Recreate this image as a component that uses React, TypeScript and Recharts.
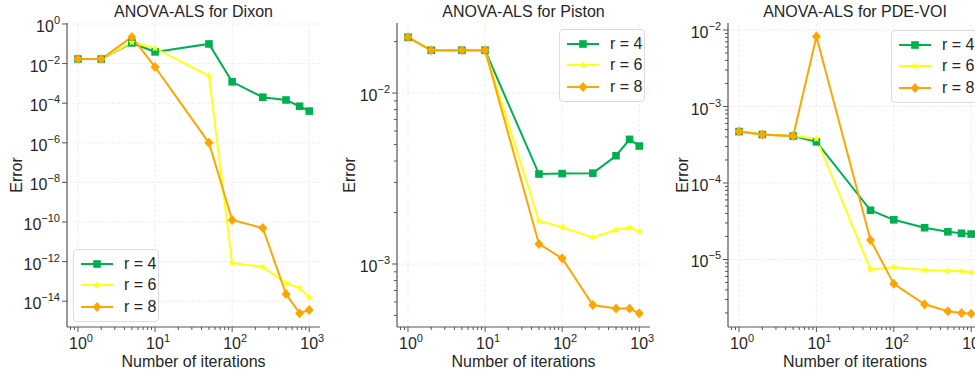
import React from "react";
import { LineChart, Line, XAxis, YAxis, ReferenceLine, Legend } from "recharts";

// iterations on the x axis (shared by all panels)
const iterations = [1, 2, 5, 10, 50, 100, 250, 500, 750, 1000];

// Dixon
const dixonR4 = [0.017, 0.017, 0.11, 0.039, 0.098, 1.2e-3, 2.0e-4, 1.45e-4, 7e-5, 4e-5];
const dixonR6 = [0.017, 0.017, 0.12, 0.06, 2.4e-3, 8.5e-13, 5.4e-13, 8e-14, 4.7e-14, 1.6e-14];
const dixonR8 = [0.017, 0.017, 0.22, 6.7e-3, 1e-6, 1.26e-10, 5e-11, 2.3e-14, 2.5e-15, 3.6e-15];

// Piston
const pistonR4 = [0.0212, 0.0178, 0.0178, 0.0178, 0.00336, 0.00338, 0.0034, 0.0043, 0.00536, 0.0049];
const pistonR6 = [0.0212, 0.0178, 0.0178, 0.0178, 0.00179, 0.00164, 0.00143, 0.00158, 0.00163, 0.00155];
const pistonR8 = [0.0212, 0.0178, 0.0178, 0.0178, 0.00131, 0.00108, 0.000575, 0.00055, 0.00055, 0.000515];

// PDE-VOI
const pdeR4 = [4.7e-4, 4.3e-4, 4.1e-4, 3.45e-4, 4.4e-5, 3.3e-5, 2.6e-5, 2.3e-5, 2.2e-5, 2.15e-5];
const pdeR6 = [4.7e-4, 4.3e-4, 4.1e-4, 3.8e-4, 7.4e-6, 7.9e-6, 7.3e-6, 7.1e-6, 7.0e-6, 6.8e-6];
const pdeR8 = [4.7e-4, 4.3e-4, 4.1e-4, 8.2e-3, 1.8e-5, 4.8e-6, 2.6e-6, 2.1e-6, 2.0e-6, 1.95e-6];

const seriesNames = ["r = 4", "r = 6", "r = 8"];
const seriesKeys = ["r4", "r6", "r8"];

const xMajor = [1, 10, 100, 1000];
const xMinor = [0.8, 0.9, 2, 3, 4, 5, 6, 7, 8, 9, 20, 30, 40, 50, 60, 70, 80, 90, 200, 300, 400, 500, 600, 700, 800, 900];

const dixonYMajor = [1, 1e-2, 1e-4, 1e-6, 1e-8, 1e-10, 1e-12, 1e-14];
const pistonYMajor = [1e-2, 1e-3];
const pistonYMinor = [5e-4, 6e-4, 7e-4, 8e-4, 9e-4, 2e-3, 3e-3, 4e-3, 5e-3, 6e-3, 7e-3, 8e-3, 9e-3, 2e-2];
const pdeYMajor = [1e-2, 1e-3, 1e-4, 1e-5];
const pdeYMinor = [
  2e-6, 3e-6, 4e-6, 5e-6, 6e-6, 7e-6, 8e-6, 9e-6,
  2e-5, 3e-5, 4e-5, 5e-5, 6e-5, 7e-5, 8e-5, 9e-5,
  2e-4, 3e-4, 4e-4, 5e-4, 6e-4, 7e-4, 8e-4, 9e-4,
  2e-3, 3e-3, 4e-3, 5e-3, 6e-3, 7e-3, 8e-3, 9e-3,
];

const GREEN = "#00b050";
const YELLOW = "#ffff14";
const ORANGE = "#ffa500";
const colors = [GREEN, YELLOW, ORANGE];
const FONT = '"Liberation Sans", Arial, sans-serif';
const TEXT = "#262626";
const SPINE = "#555555";

const isMajor = (v: number) => {
  const l = Math.log10(v);
  return Math.abs(l - Math.round(l)) < 1e-6;
};

const expLabel = (v: number) => {
  const e = Math.round(Math.log10(v));
  return e < 0 ? "\u2212" + Math.abs(e) : String(e);
};

const XTick = (props: any) => {
  const { x, y, payload } = props;
  const v = payload.value;
  const major = isMajor(v);
  return (
    <g>
      <line x1={x} x2={x} y1={y} y2={y + (major ? 5 : 3)} stroke={SPINE} strokeWidth={1} />
      {major && (
        <text x={x + 3} y={y + 22} textAnchor="middle" fill={TEXT} fontSize={16} fontFamily={FONT}>
          <tspan>10</tspan>
          <tspan dy={-7} fontSize={11}>{expLabel(v)}</tspan>
        </text>
      )}
    </g>
  );
};

const YTick = (props: any) => {
  const { x, y, payload } = props;
  const v = payload.value;
  const major = isMajor(v);
  return (
    <g>
      <line x1={x - (major ? 5 : 3)} x2={x} y1={y} y2={y} stroke={SPINE} strokeWidth={1} />
      {major && (
        <text x={x - 7} y={y + 8} textAnchor="end" fill={TEXT} fontSize={16} fontFamily={FONT}>
          <tspan>10</tspan>
          <tspan dy={-8} fontSize={11}>{expLabel(v)}</tspan>
        </text>
      )}
    </g>
  );
};

const starPoints = (cx: number, cy: number, r: number) => {
  const pts: string[] = [];
  for (let i = 0; i < 10; i++) {
    const rr = i % 2 === 0 ? r : r * 0.45;
    const a = -Math.PI / 2 + (i * Math.PI) / 5;
    pts.push(`${cx + rr * Math.cos(a)},${cy + rr * Math.sin(a)}`);
  }
  return pts.join(" ");
};

const Marker = ({ kind, cx, cy }: { kind: number; cx: number; cy: number }) => {
  if (kind === 0) return <rect x={cx - 3.8} y={cy - 3.8} width={7.6} height={7.6} fill={GREEN} />;
  if (kind === 1) return <polygon points={starPoints(cx, cy, 4)} fill={YELLOW} />;
  return <polygon points={`${cx},${cy - 5} ${cx + 4.5},${cy} ${cx},${cy + 5} ${cx - 4.5},${cy}`} fill={ORANGE} />;
};

const makeDot = (kind: number) => (props: any) => {
  const { cx, cy, index } = props;
  if (cx == null || cy == null) return <g key={`e-${kind}-${index}`} />;
  return <Marker key={`m-${kind}-${index}`} kind={kind} cx={cx} cy={cy} />;
};

const LegendBox = () => (
  <div
    style={{
      boxSizing: "border-box",
      width: 86,
      border: "1px solid #dcdcdc",
      borderRadius: 4,
      background: "rgba(255,255,255,0.85)",
      padding: "3px 4px 3px 6px",
      fontFamily: FONT,
      fontSize: 16,
      color: TEXT,
      whiteSpace: "nowrap",
    }}
  >
    {seriesNames.map((n, i) => (
      <div key={n} style={{ display: "flex", alignItems: "center", height: 21.5 }}>
        <svg width={34} height={14} style={{ marginRight: 10, flexShrink: 0 }}>
          <line x1={1} x2={33} y1={7} y2={7} stroke={colors[i]} strokeWidth={2} />
          <Marker kind={i} cx={17} cy={7} />
        </svg>
        <span>{n}</span>
      </div>
    ))}
  </div>
);

interface PanelProps {
  title: string;
  left: number;
  width: number;
  marginLeft: number;
  marginRight: number;
  r4: number[];
  r6: number[];
  r8: number[];
  yDomain: [number, number];
  yMajor: number[];
  yMinor: number[];
  legendPos: { left: number; top: number };
  errorX: number;
}

const Panel: React.FC<PanelProps> = (p) => {
  const data = iterations.map((it, i) => ({ it, r4: p.r4[i], r6: p.r6[i], r8: p.r8[i] }));
  const plotLeft = p.marginLeft;
  const plotRight = p.width - p.marginRight;
  const center = (plotLeft + plotRight) / 2;
  const textStyle: React.CSSProperties = { position: "absolute", textAlign: "center", fontFamily: FONT, fontSize: 16, color: TEXT, lineHeight: "18px" };
  return (
    <div style={{ position: "absolute", left: p.left, top: 0, width: p.width, height: 375 }}>
      <LineChart width={p.width} height={375} data={data} margin={{ top: 23, right: p.marginRight, bottom: 0, left: 0 }}>
        <XAxis
          dataKey="it"
          type="number"
          scale="log"
          domain={[0.72, 1380]}
          allowDataOverflow
          ticks={[...xMajor, ...xMinor]}
          interval={0}
          height={48}
          tickSize={0}
          tickMargin={0}
          tickLine={false}
          tick={<XTick />}
          axisLine={{ stroke: SPINE, strokeWidth: 1.2 }}
        />
        <YAxis
          type="number"
          scale="log"
          domain={p.yDomain}
          allowDataOverflow
          ticks={[...p.yMajor, ...p.yMinor]}
          interval={0}
          width={p.marginLeft}
          tickSize={0}
          tickMargin={0}
          tickLine={false}
          tick={<YTick />}
          axisLine={{ stroke: SPINE, strokeWidth: 1.2 }}
        />
        {xMajor.map((v) => (
          <ReferenceLine key={`gx-${v}`} x={v} stroke="#e8e8e8" strokeDasharray="3 2" strokeWidth={0.8} />
        ))}
        {p.yMajor.map((v) => (
          <ReferenceLine key={`gy-${v}`} y={v} stroke="#e8e8e8" strokeDasharray="3 2" strokeWidth={0.8} />
        ))}
        {seriesKeys.map((k, i) => (
          <Line
            key={k}
            dataKey={k}
            name={seriesNames[i]}
            type="linear"
            stroke={colors[i]}
            strokeWidth={2}
            dot={makeDot(i)}
            activeDot={false}
            isAnimationActive={false}
          />
        ))}
        <Legend
          layout="vertical"
          verticalAlign="middle"
          align="center"
          wrapperStyle={{ left: p.legendPos.left, top: p.legendPos.top, width: 86 }}
          content={() => <LegendBox />}
        />
      </LineChart>
      <div style={{ ...textStyle, left: center - 150, width: 300, top: 3 }}>{p.title}</div>
      <div style={{ ...textStyle, left: center - 150, width: 300, top: 353 }}>Number of iterations</div>
      <div style={{ ...textStyle, left: p.errorX - 50, width: 100, top: 166, transform: "rotate(-90deg)" }}>Error</div>
    </div>
  );
};

export default function App() {
  return (
    <div style={{ position: "fixed", left: 0, top: 0, width: 975, height: 375, overflow: "hidden", background: "#fff" }}>
      <Panel
        title="ANOVA-ALS for Dixon"
        left={0}
        width={325}
        marginLeft={67}
        marginRight={5}
        r4={dixonR4}
        r6={dixonR6}
        r8={dixonR8}
        yDomain={[5e-16, 1.12]}
        yMajor={dixonYMajor}
        yMinor={[]}
        legendPos={{ left: 73, top: 249 }}
        errorX={17}
      />
      <Panel
        title="ANOVA-ALS for Piston"
        left={325}
        width={337}
        marginLeft={72}
        marginRight={12}
        r4={pistonR4}
        r6={pistonR6}
        r8={pistonR8}
        yDomain={[4.28e-4, 0.0257]}
        yMajor={pistonYMajor}
        yMinor={pistonYMinor}
        legendPos={{ left: 234, top: 29 }}
        errorX={25}
      />
      <Panel
        title="ANOVA-ALS for PDE-VOI"
        left={650}
        width={340}
        marginLeft={78}
        marginRight={8}
        r4={pdeR4}
        r6={pdeR6}
        r8={pdeR8}
        yDomain={[1.31e-6, 0.01235]}
        yMajor={pdeYMajor}
        yMinor={pdeYMinor}
        legendPos={{ left: 241, top: 30 }}
        errorX={33}
      />
    </div>
  );
}
